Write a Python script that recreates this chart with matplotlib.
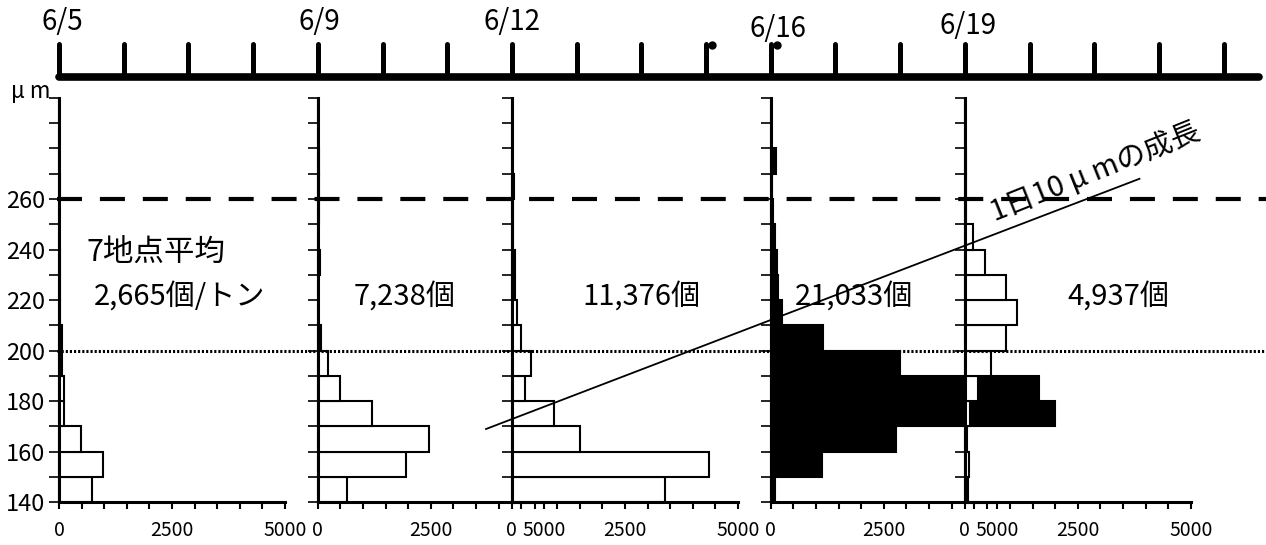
import matplotlib
matplotlib.use("Agg")
import matplotlib.pyplot as plt

plt.rcParams['font.family'] = ['Noto Sans CJK JP', 'DejaVu Sans']

# Lower bound of each 10 µm size class (140-150 ... 290-300)
size_bins = list(range(140, 300, 10))

# Sampling dates and their offset in days from 6/5
dates = ['6/5', '6/9', '6/12', '6/16', '6/19']
date_days = [0, 4, 7, 11, 14]
count_labels = ['2,665個/トン', '7,238個', '11,376個', '21,033個', '4,937個']

# Individuals per tonne in each size class
counts_0605 = [722, 980, 494, 110, 110, 74, 60, 30, 30, 30, 0, 0, 25, 0, 0, 0]
counts_0609 = [635, 1957, 2460, 1204, 487, 236, 74, 15, 10, 44, 15, 20, 37, 20, 15, 10]
counts_0612 = [3390, 4360, 1500, 931, 288, 414, 199, 111, 59, 59, 22, 22, 37, 7, 0, 0]
counts_0616 = [90, 1140, 2780, 6300, 5930, 2850, 1150, 240, 160, 130, 90, 40, 20, 110, 0, 0]
counts_0619 = [81, 96, 44, 110, 302, 575, 907, 1165, 922, 450, 184, 22, 30, 20, 15, 15]
panel_counts = [counts_0605, counts_0609, counts_0612, counts_0616, counts_0619]
panel_fill = ['white', 'white', 'white', 'black', 'white']

y_tick_labels = ['140', '160', '180', '200', '220', '240', '260']
x_tick_values = [0, 2500, 5000]

# Reference sizes and the 10 µm/day growth guide (day, µm)
ref_dashed = 260
ref_dotted = 200
growth_days = [6.6, 16.7]
growth_um = [169, 268]

# ---- layout (pixels) ----
W, H = 1266, 545
X0 = 59.0        # x of 6/5
DAY = 64.7       # pixels per day
Y140 = 502.3     # y (from top) of 140 µm
UM = 2.5275      # pixels per µm
PANEL_W = 226.0  # pixels covered by 0..5000


def fx(px):
    return px / W


def fy(py):
    return 1 - py / H


fig = plt.figure(figsize=(W / 100, H / 100), dpi=100)

# ---- histogram panels ----
for i, (d, counts, fill) in enumerate(zip(date_days, panel_counts, panel_fill)):
    ax = fig.add_axes([fx(X0 + DAY * d), fy(Y140), PANEL_W / W, 160 * UM / H])
    ax.set_zorder(i + 1)
    ax.patch.set_visible(False)
    ax.barh(size_bins, counts, height=10, align='edge', color=fill,
            edgecolor='black', linewidth=1.5, clip_on=False)
    ax.set_xlim(0, 5000)
    ax.set_ylim(140, 300)
    for s in ('top', 'right'):
        ax.spines[s].set_visible(False)
    for s in ('left', 'bottom'):
        ax.spines[s].set_linewidth(2.2)
    ax.set_yticks(range(140, 301, 10))
    if i == 0:
        labels = []
        for v in range(140, 301, 10):
            labels.append(str(v) if str(v) in y_tick_labels else '')
        ax.set_yticklabels(labels, fontsize=17)
    else:
        ax.set_yticklabels([])
    ax.set_xticks(x_tick_values)
    ax.set_xticklabels([str(v) for v in x_tick_values], fontsize=14)
    ax.set_xticks(range(0, 5001, 500), minor=True)
    ax.tick_params(axis='y', direction='out', length=7.2, width=1.2, pad=3)
    ax.tick_params(axis='x', which='both', direction='out', length=5, width=1.5, pad=8)

# ---- overlay: reference lines and growth guide in (day, µm) ----
ov = fig.add_axes([0, 0, 1, 1])
ov.set_zorder(10)
ov.patch.set_visible(False)
ov.set_xlim(-X0 / DAY, (W - X0) / DAY)
ov.set_ylim(140 - (H - Y140) / UM, 140 + Y140 / UM)
ov.axis('off')
xl = ov.get_xlim()
ov.plot([-0.03, xl[1] + 1], [ref_dashed, ref_dashed], color='black', lw=3,
        dashes=(6, 4.3), solid_capstyle='butt')
ov.plot([-0.03, xl[1] + 1], [ref_dotted, ref_dotted], color='black', lw=2.2,
        dashes=(0.7, 0.65))
ov.plot(growth_days, growth_um, color='black', lw=1.3)

# ---- timeline ----
S = 33.3
tl = fig.add_axes([0, fy(100), 1, 100 / H])
tl.set_zorder(11)
tl.patch.set_visible(False)
tl.set_xlim(-X0 / DAY, (W - X0) / DAY)
tl.set_ylim(-(100 - 77.3) / S, 77.3 / S)
tl.axis('off')
tl.plot([0, 18.55], [0, 0], color='black', lw=5.5, solid_capstyle='round')
for d in range(0, 19):
    tl.plot([d, d], [0, 1], color='black', lw=3.6, solid_capstyle='round')
tl.plot([10.1, 11.1], [0.97, 0.97], 'o', color='black', ms=5)

date_dx = [3, 2, 0, 7, 3]
date_py = [22, 22, 22, 29, 26]
for lab, d, dx, py in zip(dates, date_days, date_dx, date_py):
    fig.text(fx(X0 + DAY * d + dx), fy(py), lab, fontsize=20,
             ha='center', va='center')

# ---- annotations ----
fig.text(fx(31), fy(91), 'μ m', fontsize=16, ha='center', va='center')
fig.text(fx(156), fy(252), '7地点平均', fontsize=22, ha='center', va='center',
         zorder=20)
label_px = [180, 405, 641, 854, 1118]
for lab, px in zip(count_labels, label_px):
    fig.text(fx(px), fy(297), lab, fontsize=21, ha='center', va='center',
             zorder=20)
fig.text(fx(1095), fy(173), '1日10 μ mの成長', fontsize=21, rotation=21.8,
         rotation_mode='anchor', ha='center', va='center', zorder=20)

fig.savefig('out.png', dpi=100)
